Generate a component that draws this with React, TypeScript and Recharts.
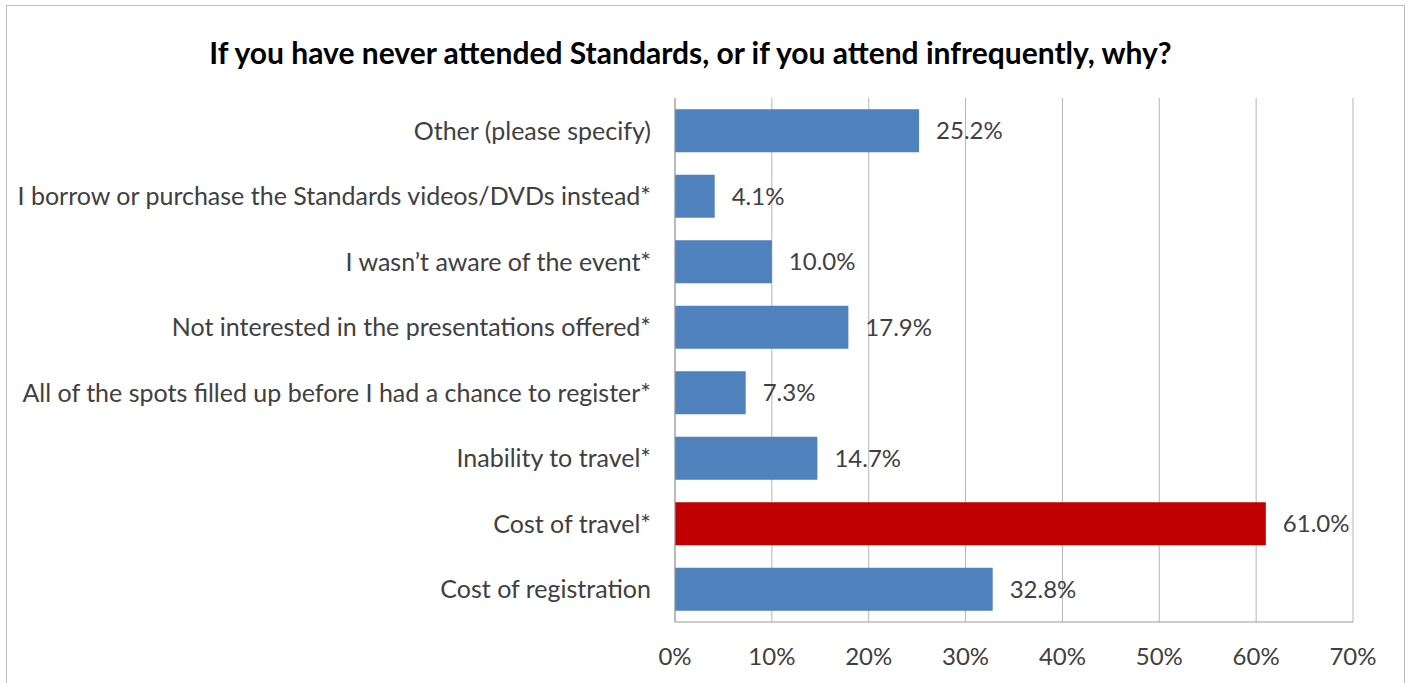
import { BarChart, Bar, XAxis, YAxis, CartesianGrid, Cell, LabelList } from "recharts";

const categories = [
  "Other (please specify)",
  "I borrow or purchase the Standards videos/DVDs instead*",
  "I wasn\u2019t aware of the event*",
  "Not interested in the presentations offered*",
  "All of the spots filled up before I had a chance to register*",
  "Inability to travel*",
  "Cost of travel*",
  "Cost of registration",
];
const percents = [25.2, 4.1, 10.0, 17.9, 7.3, 14.7, 61.0, 32.8];
const highlighted = [false, false, false, false, false, false, true, false];
const xTicks = [0, 10, 20, 30, 40, 50, 60, 70];

const data = categories.map((name, i) => ({ name, value: percents[i], hot: highlighted[i] }));

const FONT = "Lato, 'Open Sans', sans-serif";

export default function App() {
  return (
    <div
      style={{
        position: "absolute",
        left: 6,
        top: 5,
        width: 1399,
        height: 690,
        boxSizing: "border-box",
        border: "1px solid #bdbdbd",
        background: "#fff",
        fontFamily: FONT,
      }}
    >
      <div
        style={{
          position: "absolute",
          left: 0,
          right: 30,
          top: 28,
          textAlign: "center",
          fontWeight: 700,
          fontSize: 30,
          color: "#000",
        }}
      >
        If you have never attended Standards, or if you attend infrequently, why?
      </div>
      <BarChart
        width={1397}
        height={677}
        data={data}
        layout="vertical"
        barCategoryGap="17%"
        margin={{ top: 92, right: 51, bottom: 0, left: 0 }}
      >
        <CartesianGrid horizontal={false} stroke="#b5b5b5" />
        <XAxis
          type="number"
          domain={[0, 70]}
          ticks={xTicks}
          tickFormatter={(v) => `${v}%`}
          axisLine={{ stroke: "#9a9a9a" }}
          tickLine={false}
          tickSize={0}
          tickMargin={26}
          height={61}
          tick={{ fill: "#404040", fontSize: 24, fontFamily: FONT }}
        />
        <YAxis
          type="category"
          dataKey="name"
          width={668}
          axisLine={{ stroke: "#9a9a9a" }}
          tickLine={false}
          tickSize={0}
          tickMargin={24}
          interval={0}
          tick={{ fill: "#404040", fontSize: 25, fontFamily: FONT }}
        />
        <Bar dataKey="value" fill="#4f81bd" isAnimationActive={false}>
          {data.map((d, i) => (
            <Cell key={i} fill={d.hot ? "#c00000" : "#4f81bd"} />
          ))}
          <LabelList
            dataKey="value"
            position="right"
            offset={17}
            formatter={(v: number) => `${v.toFixed(1)}%`}
            style={{ fill: "#404040", fontSize: 24, fontFamily: FONT }}
          />
        </Bar>
      </BarChart>
    </div>
  );
}
